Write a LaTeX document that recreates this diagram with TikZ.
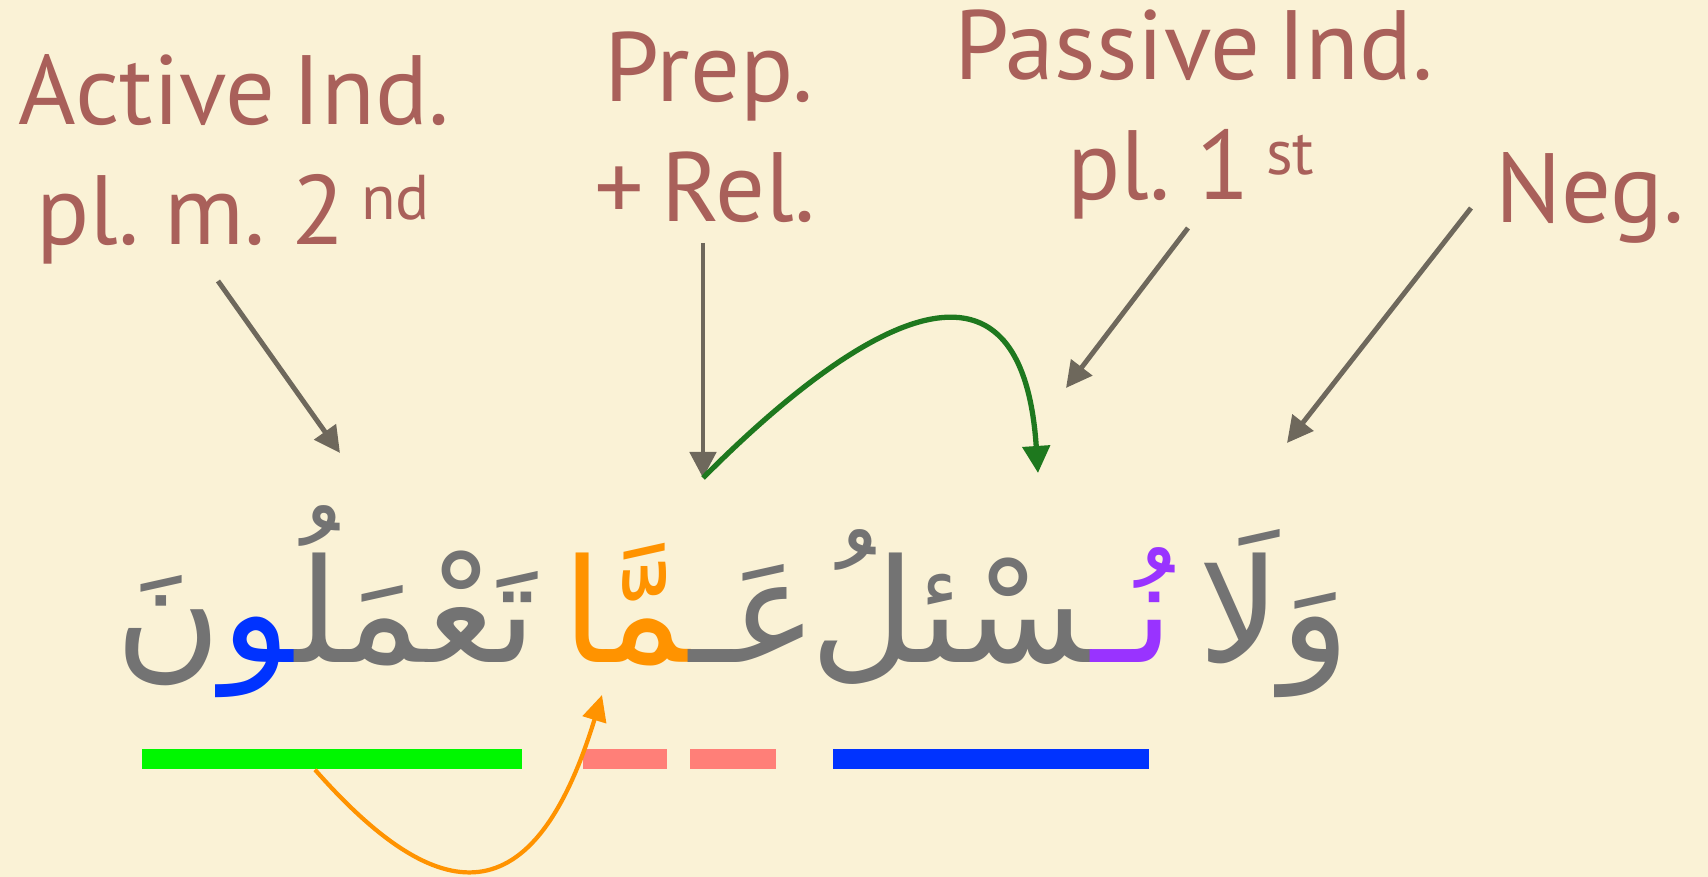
\documentclass[tikz,border=0pt]{standalone}
\usepackage{fontspec}
\setmainfont{PT Sans}
\newfontfamily\arabicfont[Script=Arabic]{DejaVu Sans}
\TeXXeTstate=1
\usepackage{tikz}
\usetikzlibrary{positioning,arrows.meta}
\definecolor{ARbg}{HTML}{FAF2D6}
\definecolor{ARlabel}{HTML}{A9605A}
\definecolor{ARpointer}{HTML}{6E685C}
\definecolor{ARgray}{HTML}{737373}
\definecolor{ARorange}{HTML}{FF9300}
\definecolor{ARpurple}{HTML}{9933FF}
\definecolor{ARblue}{HTML}{0033FF}
\definecolor{ARgreen}{HTML}{00F700}
\definecolor{ARsalmon}{HTML}{FF7F78}
\definecolor{ARdkgreen}{HTML}{1E781E}
\newcommand{\ordsup}[1]{\,\raisebox{0.25cm}{\fontsize{18}{18}\selectfont #1}}
\newcommand{\lblfont}{\fontsize{28}{34}\selectfont\spaceskip 0.17em plus 0.05em\relax}

\begin{document}
\begin{tikzpicture}[x=0.01cm, y=-0.01cm,
  lbl/.style={color=ARlabel, font=\lblfont, anchor=base, inner sep=0pt},
  arword/.style={color=ARgray, font=\fontsize{41}{48}\arabicfont, anchor=base, inner sep=0pt},
  ptr/.style={ARpointer, line width=1.4pt, -{Triangle[length=0.26cm,width=0.26cm]}},
  bar/.style={inner sep=0pt, minimum height=0.2cm}]
\useasboundingbox (0,0) rectangle (1708,877);
\fill[ARbg] (0,0) rectangle (1708,877);

% labels
\node[lbl] (act1) at (234,125) {Active Ind.};
\node[lbl] (act2) at (233,245) {pl. m. 2\ordsup{nd}};
\node[lbl] (prep1) at (709,102) {Prep.};
\node[lbl] (prep2) at (705,222) {+ Rel.};
\node[lbl] (pass1) at (1194,80) {Passive Ind.};
\node[lbl] (pass2) at (1191,200) {pl. 1\ordsup{st}};
\node[lbl] (neg) at (1590,223) {Neg.};

% the verse
\node[arword] (wala) at (1274,663) {\beginR وَلَا\endR};
\node[arword] (nusal) at (992,663) {\textcolor{ARgray}{^^^^200dسْئلُ}\textcolor{ARpurple}{نُـ}};
\node[arword] (amma) at (690,663) {\textcolor{ARorange}{^^^^200dمَّا}\textcolor{ARgray}{عَـ}};
\node[arword] (tamal) at (326,663) {\textcolor{ARgray}{نَ}\textcolor{ARblue}{^^^^200dو}\textcolor{ARgray}{تَعْمَلُ^^^^200d}};

% underlines
\node[bar, fill=ARgreen, minimum width=3.79cm] (barTamal) at (332,759) {};
\node[bar, fill=ARsalmon, minimum width=0.84cm] (barMa) at (625,759) {};
\node[bar, fill=ARsalmon, minimum width=0.86cm] (barAyn) at (733,759) {};
\node[bar, fill=ARblue, minimum width=3.15cm] (barNusal) at (991,759) {};

% arrow ends
\coordinate (actTail) at (218,281);
\coordinate (actTip) at (340,453);
\coordinate (prepTail) at (703,243);
\coordinate (prepTip) at (703,478);
\coordinate (passTail) at (1188,228);
\coordinate (passTip) at (1066,388);
\coordinate (negTail) at (1471,208);
\coordinate (negTip) at (1287,443);
\coordinate (nusalTip) at (1038,473);
\coordinate (ammaTip) at (602,695);

\draw[ptr] (actTail) -- (actTip);
\draw[ptr] (prepTail) -- (prepTip);
\draw[ptr] (passTail) -- (passTip);
\draw[ptr] (negTail) -- (negTip);

\draw[ARdkgreen, line width=1.5pt, -{Triangle[length=0.27cm,width=0.27cm]}]
  (prepTip) .. controls (820,360) and (1020,200) .. (nusalTip);
\draw[ARorange, line width=1.2pt, -{Triangle[length=0.26cm,width=0.24cm]}]
  ([xshift=-0.17cm]barTamal.south) .. controls (430,900) and (530,930) .. (ammaTip);
\end{tikzpicture}
\end{document}
